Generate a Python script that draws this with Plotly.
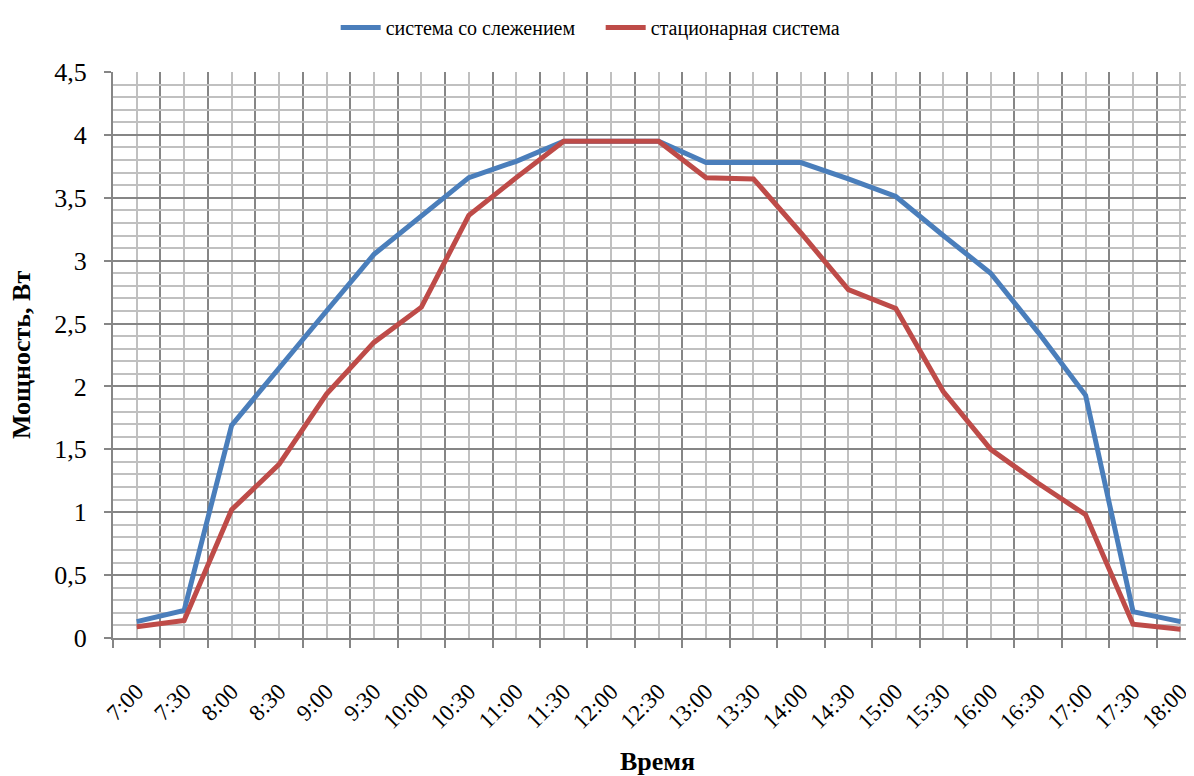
import plotly.graph_objects as go

times = ["7:00", "7:30", "8:00", "8:30", "9:00", "9:30", "10:00", "10:30", "11:00", "11:30",
         "12:00", "12:30", "13:00", "13:30", "14:00", "14:30", "15:00", "15:30", "16:00",
         "16:30", "17:00", "17:30", "18:00"]
tracking = [0.13, 0.22, 1.69, 2.15, 2.6, 3.05, 3.36, 3.66, 3.79, 3.95,
            3.95, 3.95, 3.78, 3.78, 3.78, 3.65, 3.51, 3.2, 2.9,
            2.43, 1.93, 0.21, 0.13]
stationary = [0.09, 0.14, 1.02, 1.38, 1.94, 2.35, 2.63, 3.36, 3.66, 3.95,
              3.95, 3.95, 3.66, 3.65, 3.22, 2.77, 2.62, 1.96, 1.5,
              1.23, 0.98, 0.11, 0.07]
y_ticks = [0, 0.5, 1, 1.5, 2, 2.5, 3, 3.5, 4, 4.5]

idx = list(range(len(times)))
FONT = "Liberation Serif"
MAJOR = "#868686"
MINOR = "#c0c0c0"

fig = go.Figure()
fig.add_trace(go.Scatter(x=idx, y=tracking, mode="lines", name="система со слежением",
                         line=dict(color="#4a7ebb", width=5)))
fig.add_trace(go.Scatter(x=idx, y=stationary, mode="lines", name="стационарная система",
                         line=dict(color="#be4b48", width=5)))

# page body has an 8px margin, so the figure is 8px smaller on each side
fig.update_layout(
    width=1186, height=768,
    margin=dict(l=105, r=0, t=64, b=138),
    paper_bgcolor="white", plot_bgcolor="white",
    separators=", ",
    font=dict(family=FONT, size=20, color="black"),
    showlegend=True,
    legend=dict(orientation="h", x=0.206, xanchor="left", y=1.0795, yanchor="middle",
                font=dict(family=FONT, size=20), itemwidth=40, entrywidth=210,
                bgcolor="rgba(0,0,0,0)"),
    xaxis=dict(
        range=[-0.5, 22.285],
        tickmode="array", tickvals=idx, ticktext=times, tickangle=-45,
        ticks="", showgrid=True, gridcolor=MINOR, gridwidth=2,
        ticklabelstandoff=29,
        minor=dict(tickmode="linear", tick0=-0.5, dtick=1, showgrid=True,
                   gridcolor=MAJOR, gridwidth=2, ticks="outside", ticklen=8,
                   tickcolor=MAJOR, tickwidth=2),
        showline=True, linecolor=MAJOR, linewidth=2,
        zeroline=False, fixedrange=True,
        tickfont=dict(family=FONT, size=23),
    ),
    yaxis=dict(
        range=[0, 4.5],
        tickmode="array", tickvals=y_ticks,
        ticktext=[("%g" % v).replace(".", ",") for v in y_ticks],
        ticks="outside", ticklen=7, tickcolor=MAJOR, tickwidth=2,
        ticklabelstandoff=12,
        showgrid=True, gridcolor=MAJOR, gridwidth=2,
        minor=dict(tickmode="linear", tick0=0, dtick=0.1, showgrid=True,
                   gridcolor=MINOR, gridwidth=2),
        showline=True, linecolor=MAJOR, linewidth=2,
        zeroline=False, fixedrange=True,
        tickfont=dict(family=FONT, size=26),
    ),
    annotations=[
        dict(text="<b>Мощность, Вт</b>", xref="paper", yref="paper", x=-0.085, y=0.5,
             xanchor="center", yanchor="middle", textangle=-90, showarrow=False,
             font=dict(family=FONT, size=26)),
        dict(text="<b>Время</b>", xref="paper", yref="paper", x=0.504, y=-0.218,
             xanchor="center", yanchor="middle", showarrow=False,
             font=dict(family=FONT, size=26)),
    ],
)

fig.write_html("out.html")
